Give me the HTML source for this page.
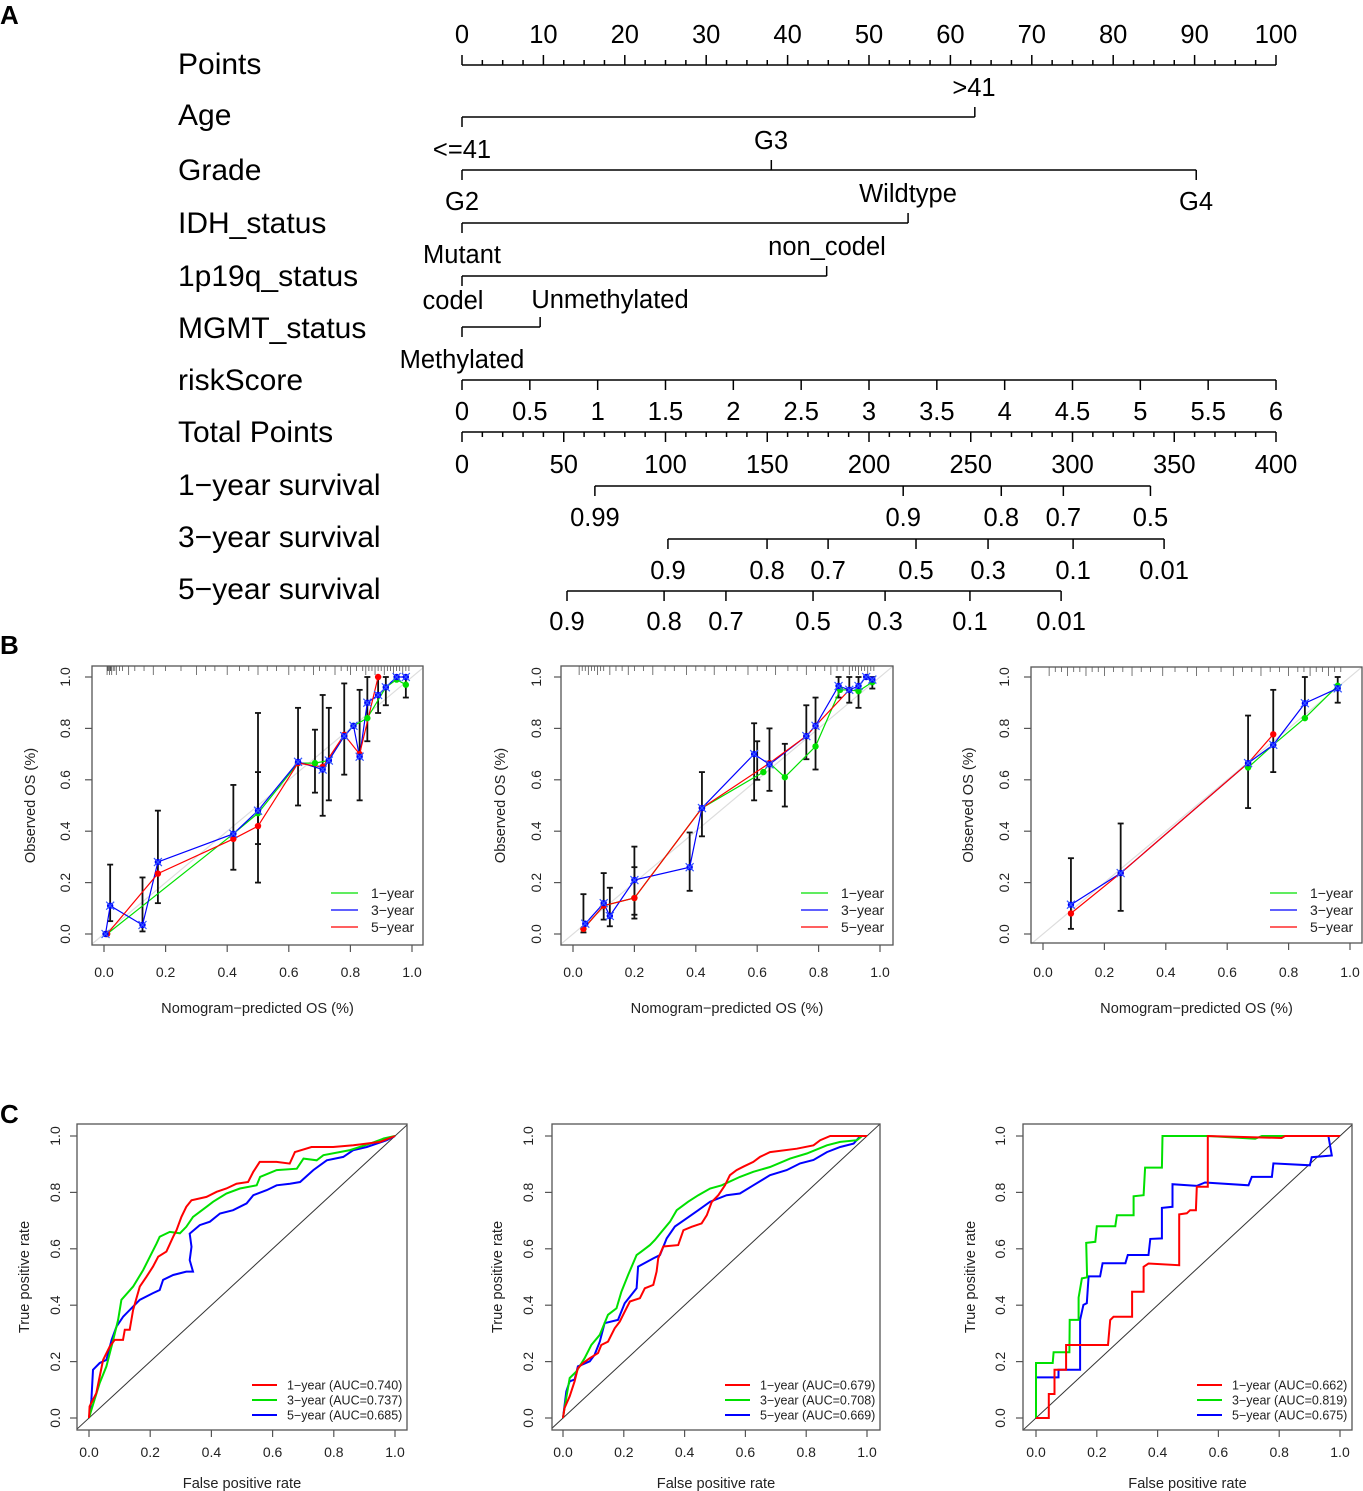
<!DOCTYPE html>
<html><head><meta charset="utf-8">
<style>
html,body{margin:0;padding:0;background:#fff;}
svg{display:block;font-family:"Liberation Sans",Arial,sans-serif;}
</style></head>
<body>
<svg id="fig" width="1363" height="1491" viewBox="0 0 1363 1491" xmlns="http://www.w3.org/2000/svg">
<text x="0" y="24" font-size="26" font-weight="bold">A</text>
<text x="0" y="654" font-size="26" font-weight="bold">B</text>
<text x="0" y="1123" font-size="26" font-weight="bold">C</text>
<g id="nomo"></g>
<g id="calib"></g>
<g id="roc"></g>
</svg>
<script>
// ---------- Nomogram data ----------
const nomoRows = ["Points","Age","Grade","IDH_status","1p19q_status","MGMT_status","riskScore","Total Points","1\u2212year survival","3\u2212year survival","5\u2212year survival"];
const pointsTicks = [0,10,20,30,40,50,60,70,80,90,100];
const ageLevels = ["<=41",">41"]; const agePts = [0,63];
const gradeLevels = ["G2","G3","G4"]; const gradePts = [0,38,90.2];
const idhLevels = ["Mutant","Wildtype"]; const idhPts = [0,54.8];
const codelLevels = ["codel","non_codel"]; const codelPts = [0,44.8];
const mgmtLevels = ["Methylated","Unmethylated"]; const mgmtPts = [0,9.6];
const riskTicks = ["0","0.5","1","1.5","2","2.5","3","3.5","4","4.5","5","5.5","6"];
const totalTicks = [0,50,100,150,200,250,300,350,400];
const surv1Labels = ["0.99","0.9","0.8","0.7","0.5"]; const surv1Tot = [65.3,216.8,265,295.5,338.3];
const surv3Labels = ["0.9","0.8","0.7","0.5","0.3","0.1","0.01"]; const surv3Tot = [101.2,149.9,179.9,223.1,258.5,300.3,345];
const surv5Labels = ["0.9","0.8","0.7","0.5","0.3","0.1","0.01"]; const surv5Tot = [51.6,99.3,129.7,172.5,207.9,249.6,294.4];

// ---------- Calibration data ----------
const cal1Pred = {g:[0.01,0.42,0.50,0.63,0.685,0.73,0.78,0.81,0.855,0.915,0.95,0.98], b:[0.005,0.02,0.125,0.175,0.42,0.50,0.63,0.71,0.73,0.78,0.81,0.83,0.855,0.89,0.915,0.95,0.98], r:[0.01,0.175,0.42,0.50,0.63,0.71,0.78,0.83,0.89]};
const cal1Obs = {g:[0,0.39,0.47,0.665,0.665,0.675,0.77,0.81,0.84,0.96,0.99,0.97], b:[0,0.11,0.035,0.28,0.39,0.48,0.67,0.64,0.675,0.77,0.81,0.69,0.9,0.93,0.96,1.0,1.0], r:[0,0.235,0.37,0.42,0.665,0.65,0.775,0.70,1.0]};
const cal1ErrX = [0.02,0.125,0.175,0.42,0.50,0.50,0.63,0.685,0.71,0.73,0.78,0.83,0.855,0.89,0.915,0.98];
const cal1ErrLo = [0.05,0.01,0.12,0.25,0.2,0.35,0.5,0.55,0.46,0.52,0.62,0.52,0.75,0.86,0.89,0.92];
const cal1ErrHi = [0.27,0.22,0.48,0.58,0.86,0.63,0.88,0.795,0.93,0.88,0.975,0.95,1.0,1.0,1.0,1.0];
const cal2Pred = {g:[0.034,0.10,0.20,0.42,0.62,0.64,0.69,0.79,0.87,0.90,0.93,0.975], b:[0.04,0.10,0.12,0.20,0.38,0.42,0.59,0.64,0.76,0.79,0.865,0.90,0.93,0.955,0.975], r:[0.034,0.10,0.20,0.42,0.64,0.76,0.79,0.90]};
const cal2Obs = {g:[0.02,0.11,0.14,0.49,0.63,0.665,0.61,0.73,0.95,0.95,0.945,0.98], b:[0.04,0.12,0.07,0.21,0.26,0.49,0.70,0.66,0.77,0.81,0.965,0.95,0.965,1.0,0.99], r:[0.02,0.11,0.14,0.49,0.665,0.77,0.81,0.95]};
const cal2ErrX = [0.034,0.10,0.12,0.20,0.20,0.38,0.42,0.59,0.60,0.64,0.69,0.76,0.79,0.865,0.90,0.93,0.975];
const cal2ErrLo = [0.006,0.056,0.03,0.075,0.06,0.168,0.38,0.52,0.60,0.557,0.496,0.68,0.64,0.92,0.90,0.88,0.955];
const cal2ErrHi = [0.155,0.237,0.18,0.34,0.26,0.395,0.63,0.82,0.75,0.80,0.74,0.89,0.92,1.0,1.0,1.0,1.0];
const cal3Pred = {g:[0.668,0.75,0.853,0.96], b:[0.091,0.253,0.668,0.75,0.853,0.96], r:[0.091,0.253,0.668,0.75]};
const cal3Obs = {g:[0.648,0.736,0.84,0.966], b:[0.114,0.237,0.665,0.736,0.898,0.956], r:[0.08,0.237,0.665,0.777]};
const cal3ErrX = [0.091,0.253,0.668,0.75,0.853,0.96];
const cal3ErrLo = [0.02,0.09,0.49,0.63,0.84,0.90];
const cal3ErrHi = [0.295,0.43,0.85,0.95,1.0,1.0];
const rug1 = [0.01,0.012,0.015,0.018,0.02,0.022,0.025,0.03,0.035,0.04,0.05,0.06,0.08,0.1,0.13,0.16,0.2,0.25,0.3,0.33,0.36,0.4,0.44,0.47,0.5,0.53,0.56,0.6,0.62,0.65,0.68,0.7,0.72,0.75,0.77,0.79,0.8,0.82,0.84,0.85,0.86,0.87,0.88,0.89,0.9,0.91,0.92,0.93,0.94,0.95,0.96,0.97,0.98,0.99];
const rug2 = [0.02,0.03,0.04,0.05,0.06,0.07,0.08,0.09,0.1,0.12,0.14,0.16,0.18,0.2,0.23,0.26,0.3,0.33,0.37,0.4,0.43,0.46,0.5,0.53,0.57,0.6,0.63,0.66,0.7,0.73,0.76,0.79,0.82,0.84,0.86,0.88,0.9,0.91,0.92,0.93,0.94,0.95,0.96,0.97,0.98];
const rug3 = [0.02,0.04,0.06,0.08,0.1,0.12,0.14,0.16,0.18,0.2,0.23,0.26,0.29,0.32,0.35,0.39,0.43,0.47,0.5,0.54,0.58,0.62,0.65,0.68,0.71,0.74,0.77,0.8,0.83,0.85,0.87,0.89,0.91,0.93,0.95,0.97];

// ---------- ROC data ----------
const roc1Fpr = {r:[0,.002,.024,.035,.046,.068,.084,.111,.117,.133,.144,.166,.188,.209,.226,.253,.275,.286,.302,.318,.335,.384,.417,.449,.482,.520,.537,.558,.613,.656,.673,.727,.798,.864,.951,1],
 g:[0,.008,.035,.057,.079,.095,.106,.144,.177,.199,.221,.231,.264,.297,.318,.340,.384,.406,.449,.493,.548,.559,.613,.679,.701,.744,.766,.853,.919,.963,1],
 b:[0,.008,.013,.024,.035,.057,.074,.090,.112,.144,.166,.209,.231,.242,.275,.318,.340,.329,.335,.329,.362,.395,.428,.471,.515,.537,.581,.613,.657,.690,.733,.777,.831,.864,.908,.973,1]};
const roc1Tpr = {r:[0,.041,.088,.147,.206,.254,.277,.277,.313,.313,.383,.466,.501,.537,.572,.590,.643,.666,.713,.749,.772,.784,.802,.814,.831,.837,.873,.908,.908,.902,.943,.961,.961,.967,.979,1],
 g:[0,.029,.124,.183,.277,.348,.419,.466,.525,.572,.619,.643,.660,.655,.678,.713,.749,.767,.796,.814,.825,.855,.879,.884,.920,.914,.932,.950,.973,.991,1],
 b:[0,.065,.171,.183,.195,.206,.277,.324,.360,.395,.419,.443,.454,.490,.507,.519,.519,.560,.607,.654,.684,.696,.725,.737,.761,.790,.808,.825,.831,.837,.879,.914,.926,.950,.961,.985,1]};
const roc1Auc = ["0.740","0.737","0.685"];
const roc2Fpr = {r:[0,.005,.022,.038,.049,.066,.088,.115,.126,.148,.170,.187,.203,.220,.253,.269,.297,.308,.313,.330,.379,.396,.423,.456,.473,.489,.511,.533,.549,.571,.593,.626,.648,.681,.769,.824,.846,.879,1],
 g:[0,.005,.022,.044,.071,.093,.121,.148,.176,.192,.214,.242,.258,.286,.302,.324,.352,.374,.412,.445,.484,.522,.582,.626,.681,.747,.802,.868,.912,.967,.984,1],
 b:[0,.011,.022,.038,.049,.088,.104,.121,.137,.181,.203,.242,.247,.297,.319,.341,.368,.407,.445,.484,.538,.582,.626,.681,.736,.780,.824,.868,.912,.956,.978,1]};
const roc2Tpr = {r:[0,.035,.077,.130,.177,.195,.212,.230,.259,.271,.318,.342,.377,.413,.425,.460,.472,.519,.566,.608,.613,.666,.678,.690,.719,.766,.790,.825,.861,.879,.891,.908,.926,.943,.955,.967,.985,1,1],
 g:[0,.035,.142,.165,.212,.259,.295,.366,.389,.448,.507,.578,.590,.613,.631,.660,.696,.737,.767,.790,.814,.825,.855,.873,.890,.920,.938,.967,.979,.985,1,1],
 b:[0,.094,.130,.136,.183,.201,.224,.271,.336,.348,.407,.460,.537,.566,.578,.637,.679,.708,.737,.767,.790,.796,.825,.861,.879,.903,.915,.943,.961,.973,1,1]};
const roc2Auc = ["0.679","0.708","0.669"];
const roc3Fpr = {r:[0,.042,.042,.061,.061,.099,.099,.237,.244,.255,.316,.316,.354,.354,.370,.471,.471,.496,.507,.526,.529,.565,.565,.808,.819,1],
 g:[0,0,.055,.058,.110,.111,.140,.140,.151,.168,.165,.195,.200,.261,.266,.321,.321,.354,.359,.414,.416,.469,.496,.567,.721,.743,1],
 b:[0,0,.074,.074,.145,.145,.156,.167,.173,.211,.219,.294,.302,.370,.376,.414,.414,.449,.449,.529,.556,.699,.710,.776,.781,.901,.907,.973,.962,1]};
const roc3Tpr = {r:[0,0,.085,.085,.171,.171,.259,.259,.347,.359,.359,.448,.448,.536,.548,.542,.722,.726,.737,.737,.820,.820,1,.993,1,1],
 g:[0,.195,.195,.233,.233,.348,.348,.427,.495,.499,.621,.625,.680,.680,.719,.719,.786,.790,.888,.888,1,1,1,1,.99,1,1],
 b:[0,.144,.144,.171,.171,.348,.401,.407,.502,.502,.549,.549,.578,.578,.635,.637,.745,.749,.829,.823,.835,.825,.855,.855,.903,.896,.925,.931,1,1]};
const roc3Auc = ["0.662","0.819","0.675"];
const seriesNames = ["1\u2212year","3\u2212year","5\u2212year"];

const NS = "http://www.w3.org/2000/svg";
function mk(parent, tag, attrs, text){
  const e = document.createElementNS(NS, tag);
  for (const k in attrs) e.setAttribute(k, attrs[k]);
  if (text !== undefined) e.textContent = text;
  parent.appendChild(e); return e;
}
function ln(p,x1,y1,x2,y2,stroke,w){ return mk(p,'line',{x1:x1,y1:y1,x2:x2,y2:y2,stroke:stroke||'#000','stroke-width':w||1.5}); }

// ---------- Nomogram ----------
(function(){
  const g = document.getElementById('nomo');
  const X0 = 462, X1 = 1276;
  const px = p => X0 + (X1-X0)*p/100;
  const tx = t => X0 + (X1-X0)*t/400;
  const rowY = [64,115,170,223,276,328,380,432,485,537,589];
  nomoRows.forEach((r,i)=>{
    const t = mk(g,'text',{x:178,y:rowY[i]+10,'font-size':30},r);
    
    
  });
  const FS = 25.5;
  const py = 65;
  ln(g,X0,py,X1,py);
  for (let v=0; v<=100; v+=2.5){ const maj = v%10===0; ln(g,px(v),py,px(v),py-(maj?10:5)); }
  pointsTicks.forEach(v=>{ const t=mk(g,'text',{x:px(v),y:43,'font-size':FS,'text-anchor':'middle'},String(v));
      });
  function cat(y, pts, levels, labelPos){
    ln(g,px(pts[0]),y,px(pts[pts.length-1]),y);
    pts.forEach((p,i)=>{
      const up = labelPos[i][2];
      ln(g,px(p),y,px(p),up?y-10:y+10);
      const t = mk(g,'text',{x:labelPos[i][0],y:labelPos[i][1]+9,'font-size':FS,'text-anchor':'middle'},levels[i]);
       
    });
  }
  cat(117, agePts, ageLevels, [[462,149,false],[974,87,true]]);
  cat(170, gradePts, gradeLevels, [[462,201,false],[771,140,true],[1196,201,false]]);
  cat(223, idhPts, idhLevels, [[462,254,false],[908,193,true]]);
  cat(276, codelPts, codelLevels, [[453,300,false],[827,246,true]]);
  cat(327, mgmtPts, mgmtLevels, [[462,359,false],[610,299,true]]);
  ln(g,X0,380,X1,380);
  riskTicks.forEach((lab,i)=>{ const x = X0+(X1-X0)*i/(riskTicks.length-1);
    ln(g,x,380,x,390);
    const t=mk(g,'text',{x:x,y:420,'font-size':FS,'text-anchor':'middle'},lab);
      });
  ln(g,X0,432,X1,432);
  for (let v=0; v<=400; v+=10){ const maj=v%50===0; ln(g,tx(v),432,tx(v),432+(maj?10:5)); }
  totalTicks.forEach(v=>{ const t=mk(g,'text',{x:tx(v),y:473,'font-size':FS,'text-anchor':'middle'},String(v));
      });
  function surv(y, tots, labs, ly){
    ln(g,tx(tots[0]),y,tx(tots[tots.length-1]),y);
    tots.forEach((v,i)=>{ ln(g,tx(v),y,tx(v),y+10);
      const t=mk(g,'text',{x:tx(v),y:ly+9,'font-size':FS,'text-anchor':'middle'},labs[i]);
        });
  }
  surv(486, surv1Tot, surv1Labels, 517);
  surv(539, surv3Tot, surv3Labels, 570);
  surv(591, surv5Tot, surv5Labels, 621);
})();

const COL = {g:'#00e000', b:'#0000ff', r:'#ff0000'};

function frame(g, box, xa, ya, ylabX, ytitX, xlabY, xtitY, xtitle, ytitle){
  mk(g,'rect',{x:box[0],y:box[1],width:box[2]-box[0],height:box[3]-box[1],fill:'none',stroke:'#555','stroke-width':1.3});
  const ticks=[0,0.2,0.4,0.6,0.8,1.0];
  ticks.forEach(v=>{
    const x = xa(v); ln(g,x,box[3],x,box[3]+7,'#555',1.2);
    const t=mk(g,'text',{x:x,y:xlabY+5,'font-size':14,'text-anchor':'middle','fill':'#222'},v.toFixed(1));
     
    const y = ya(v); ln(g,box[0]-7,y,box[0],y,'#555',1.2);
    const t2=mk(g,'text',{x:0,y:0,'font-size':14,'text-anchor':'middle','fill':'#222',transform:`translate(${ylabX+5},${y}) rotate(-90)`},v.toFixed(1));
     
  });
  const t3=mk(g,'text',{x:(box[0]+box[2])/2,y:xtitY+5,'font-size':14.6,'text-anchor':'middle','fill':'#222'},xtitle);
   
  const t4=mk(g,'text',{x:0,y:0,'font-size':14.6,'text-anchor':'middle','fill':'#222',transform:`translate(${ytitX+5},${(box[1]+box[3])/2}) rotate(-90)`},ytitle);
   
}

// ---------- Calibration ----------
(function(){
  const root = document.getElementById('calib');
  const panels = [
    {box:[92,666,423,945], x0:104,x1:412, pred:cal1Pred, obs:cal1Obs, ex:cal1ErrX, lo:cal1ErrLo, hi:cal1ErrHi, rug:rug1, ylab:65, ytit:30},
    {box:[561,666,893,945], x0:573,x1:880, pred:cal2Pred, obs:cal2Obs, ex:cal2ErrX, lo:cal2ErrLo, hi:cal2ErrHi, rug:rug2, ylab:536, ytit:500},
    {box:[1031,667,1362,943], x0:1043,x1:1350, pred:cal3Pred, obs:cal3Obs, ex:cal3ErrX, lo:cal3ErrLo, hi:cal3ErrHi, rug:rug3, ylab:1004, ytit:968}
  ];
  panels.forEach((P,pi)=>{
    const g = mk(root,'g',{});
    
    
    const xa = v => P.x0 + (P.x1-P.x0)*v;
    const ya = v => 934 - 257*v;
    ln(g,P.box[0],ya((P.box[0]-P.x0)/(P.x1-P.x0)),P.box[2],ya((P.box[2]-P.x0)/(P.x1-P.x0)),'#ddd',1.2);
    frame(g,P.box,xa,ya,P.ylab,P.ytit,972,1008,'Nomogram\u2212predicted OS (%)','Observed OS (%)');
    P.rug.forEach((v,i)=>{ const r=ln(g,xa(v),P.box[1],xa(v),P.box[1]+(i%3===0?9:5),'#555',0.8);
        });
    P.ex.forEach((x,i)=>{
      const X=xa(x);
      ln(g,X,ya(P.lo[i]),X,ya(P.hi[i]),'#111',1.8);
      ln(g,X-3,ya(P.lo[i]),X+3,ya(P.lo[i]),'#111',1.8);
      ln(g,X-3,ya(P.hi[i]),X+3,ya(P.hi[i]),'#111',1.8);
    });
    ['g','b','r'].forEach(k=>{
      const pts = P.pred[k].map((p,i)=>xa(p).toFixed(1)+','+ya(P.obs[k][i]).toFixed(1)).join(' ');
      const pl = mk(g,'polyline',{points:pts,fill:'none',stroke:COL[k],'stroke-width':1.2});
      
      
    });
    ['g','r','b'].forEach(k=>{
      P.pred[k].forEach((p,i)=>{
        const X=xa(p), Y=ya(P.obs[k][i]);
        const c = mk(g,'circle',{cx:X,cy:Y,r:3.2,fill:COL[k]});
        
        
        if (k==='b'){ ln(g,X-4,Y-4,X+4,Y+4,'#3355ff',1.2); ln(g,X-4,Y+4,X+4,Y-4,'#3355ff',1.2); }
      });
    });
    const lx = P.box[2]-92, ly=[893,910,927];
    mk(g,'rect',{x:lx-4,y:883,width:90,height:54,fill:'#fff'});
    ['g','b','r'].forEach((k,i)=>{
      ln(g,lx,ly[i],lx+27,ly[i],COL[k],1.3);
      const t=mk(g,'text',{x:lx+40,y:ly[i]+5,'font-size':14,'fill':'#222'},seriesNames[i]);
       
    });
  });
})();

// ---------- ROC ----------
(function(){
  const root = document.getElementById('roc');
  const panels = [
    {box:[77,1124,407,1430], x0:89,x1:395, fpr:roc1Fpr, tpr:roc1Tpr, auc:roc1Auc, ylab:55, ytit:24},
    {box:[552,1124,880,1430], x0:563,x1:867, fpr:roc2Fpr, tpr:roc2Tpr, auc:roc2Auc, ylab:528, ytit:497},
    {box:[1023,1124,1352,1430], x0:1036,x1:1340, fpr:roc3Fpr, tpr:roc3Tpr, auc:roc3Auc, ylab:1000, ytit:970}
  ];
  panels.forEach((P,pi)=>{
    const g = mk(root,'g',{});
    
    
    const xa = v => P.x0 + (P.x1-P.x0)*v;
    const ya = v => 1418 - 282*v;
    const fx = x => (x-P.x0)/(P.x1-P.x0);
    ln(g,P.box[0],ya(fx(P.box[0])),P.box[2],ya(fx(P.box[2])),'#333',1);
    frame(g,P.box,xa,ya,P.ylab,P.ytit,1452,1483,'False positive rate','True positive rate');
    ['b','g','r'].forEach(k=>{
      const pts = P.fpr[k].map((f,i)=>xa(f).toFixed(1)+','+ya(P.tpr[k][i]).toFixed(1)).join(' ');
      const pl = mk(g,'polyline',{points:pts,fill:'none',stroke:COL[k],'stroke-width':2});
      
      
    });
    const lx = P.box[2]-155, ly=[1385,1400,1415];
    ['r','g','b'].forEach((k,i)=>{
      ln(g,lx,ly[i],lx+25,ly[i],COL[k],2);
      const t=mk(g,'text',{x:lx+35,y:ly[i]+4.5,'font-size':12.5,'fill':'#222'},seriesNames[i]+' (AUC='+P.auc[i]+')');
       
    });
  });
})();
</script>
</body></html>
